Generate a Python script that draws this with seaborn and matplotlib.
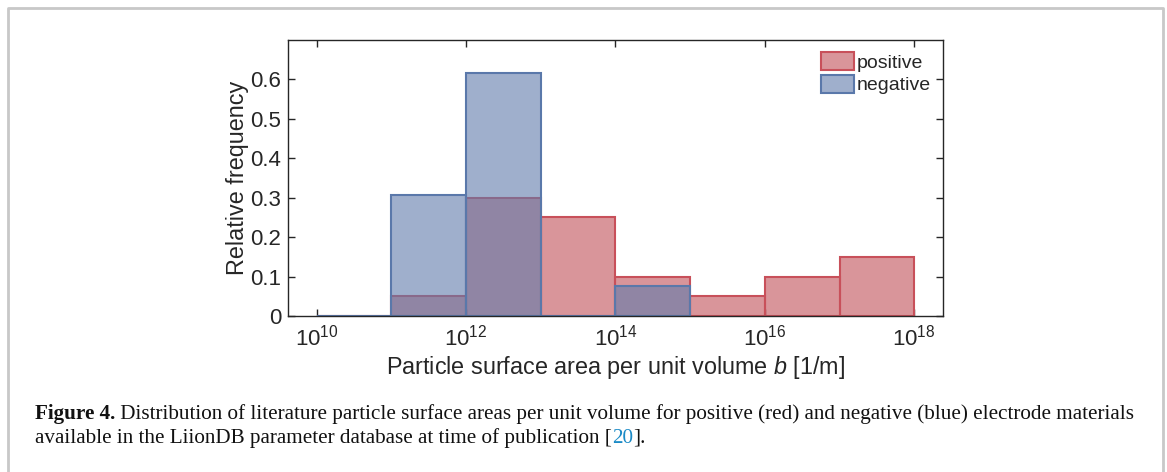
import numpy as np
import matplotlib
matplotlib.use("Agg")
import matplotlib.pyplot as plt
import seaborn as sns

# bin edges as decades (exponents of 10)
pos_edges = [10, 11, 12, 13, 14, 15, 16, 17, 18]
neg_edges = [10, 11, 12, 13, 14, 15]

# relative frequency per bin
pos_freq = [0.0, 0.05, 0.30, 0.25, 0.10, 0.05, 0.10, 0.15]
neg_freq = [0.0, 0.3077, 0.6154, 0.0, 0.0769]

y_ticks = [0, 0.1, 0.2, 0.3, 0.4, 0.5, 0.6]
y_labels = ["0", "0.1", "0.2", "0.3", "0.4", "0.5", "0.6"]
x_ticks = [1e10, 1e12, 1e14, 1e16, 1e18]

red_face = "#c04e57"
red_edge = "#c8505a"
blue_face = "#607bab"
blue_edge = "#5a78aa"

sns.set_style("ticks")
plt.rcParams["font.family"] = ["Liberation Sans", "DejaVu Sans"]
plt.rcParams["mathtext.fontset"] = "custom"
plt.rcParams["mathtext.rm"] = "Liberation Sans"
plt.rcParams["mathtext.it"] = "Liberation Sans:italic"

fig = plt.figure(figsize=(11.67, 4.72), dpi=100)
ax = fig.add_axes([0.2468, 0.3305, 0.5612, 0.5848])

pos_x = [10 ** ((a + b) / 2) for a, b in zip(pos_edges[:-1], pos_edges[1:])]
neg_x = [10 ** ((a + b) / 2) for a, b in zip(neg_edges[:-1], neg_edges[1:])]

sns.histplot(x=pos_x, weights=pos_freq, bins=pos_edges, log_scale=True, ax=ax,
             color=red_face, alpha=0.6, edgecolor=red_edge, linewidth=1.5,
             label="positive")
sns.histplot(x=neg_x, weights=neg_freq, bins=neg_edges, log_scale=True, ax=ax,
             color=blue_face, alpha=0.6, edgecolor=blue_edge, linewidth=1.5,
             label="negative")

ax.set_xlim(10 ** 9.615, 10 ** 18.385)
ax.set_ylim(0, 0.7)
ax.set_xticks(x_ticks)
ax.xaxis.set_minor_locator(matplotlib.ticker.NullLocator())
ax.set_yticks(y_ticks)
ax.set_yticklabels(y_labels)
ax.tick_params(direction="in", top=True, right=True, length=5, width=1,
               labelsize=16, colors="#262626")
ax.tick_params(axis="x", pad=6)
ax.tick_params(axis="y", pad=5)
for s in ax.spines.values():
    s.set_color("#262626")
    s.set_linewidth(1)
    s.set_visible(True)

ax.set_xlabel("Particle surface area per unit volume $\\mathit{b}$ [1/m]",
              fontsize=16.8, color="#262626", labelpad=3)
ax.set_ylabel("Relative frequency", fontsize=16.8, color="#262626", labelpad=0.5)

ax.legend(loc="upper right", frameon=False, fontsize=14, handlelength=1.7,
          handleheight=1.1, handletextpad=0.15, labelspacing=0.15,
          borderaxespad=0.2)

# light frame around the whole figure, open at the bottom
fig.add_artist(plt.Line2D([0.007, 0.007, 0.9966, 0.9966], [0.0, 0.983, 0.983, 0.0],
                          transform=fig.transFigure, color="#c8c8c8", lw=2))

# caption
serif = ["Liberation Serif", "DejaVu Serif"]
cap_size = 15.2
r = fig.canvas.get_renderer()


def chain(parts, x, y):
    for txt, kw in parts:
        opts = {"color": "#111111"}
        opts.update(kw)
        t = fig.text(x, y, txt, fontsize=cap_size, family=serif,
                     transform=None, **opts)
        x = t.get_window_extent(r).x1
    return x


chain([("Figure 4.", {"weight": "bold"}),
       (" Distribution of literature particle surface areas per unit volume for positive "
        "(red) and negative (blue) electrode materials", {})], 35, 472 - 419)
chain([("available in the LiionDB parameter database at time of publication [", {}),
       ("20", {"color": "#1a8ac6"}),
       ("].", {})], 35, 472 - 443)

fig.savefig("out.png", dpi=100)
